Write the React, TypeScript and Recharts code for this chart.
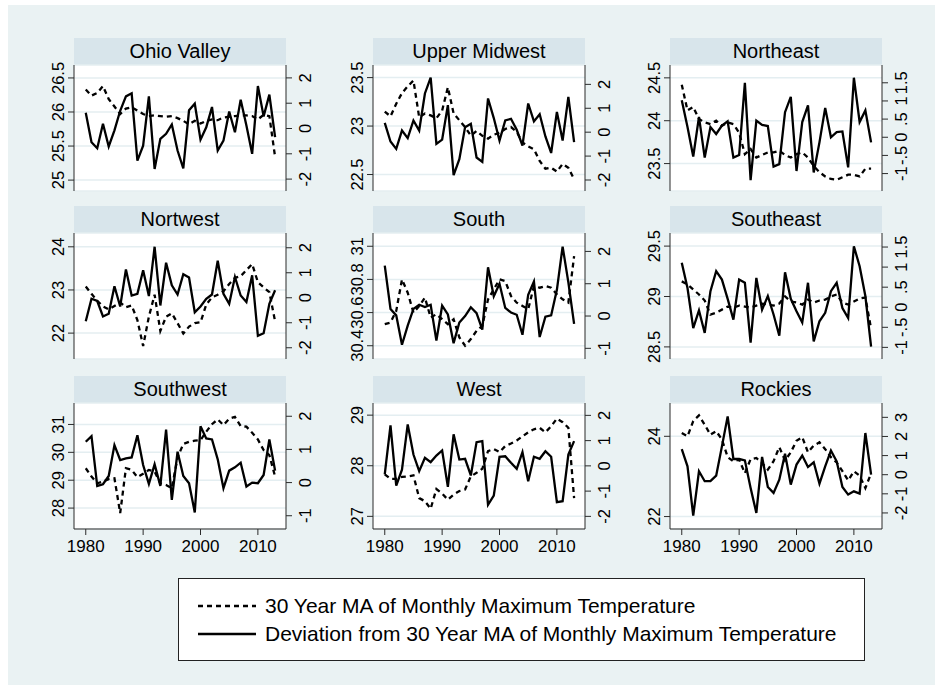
import React from 'react';
import { LineChart, Line, XAxis, YAxis, CartesianGrid } from 'recharts';

const years = [
  1980, 1981, 1982, 1983, 1984, 1985, 1986, 1987, 1988, 1989,
  1990, 1991, 1992, 1993, 1994, 1995, 1996, 1997, 1998, 1999,
  2000, 2001, 2002, 2003, 2004, 2005, 2006, 2007, 2008, 2009,
  2010, 2011, 2012, 2013,
];
const yearTicks = [1980, 1990, 2000, 2010];

// 30 year MA (left axis) and deviation (right axis)
const ohioMA = [26.33, 26.24, 26.28, 26.38, 26.19, 26.08, 25.97, 26.05, 26.07, 26.02, 25.97, 25.94, 25.95, 25.94, 25.93, 25.94, 25.91, 25.87, 25.82, 25.87, 25.83, 25.87, 25.89, 25.88, 25.92, 25.93, 25.94, 25.95, 25.95, 25.94, 25.89, 25.96, 25.94, 25.34];
const ohioDev = [0.62, -0.54, -0.78, 0.19, -0.71, -0.07, 0.7, 1.27, 1.39, -1.27, -0.68, 1.27, -1.6, -0.41, -0.21, 0.16, -0.87, -1.58, 0.72, 0.98, -0.44, 0.05, 0.85, -0.87, -0.48, 0.67, -0.15, 1.14, 0.12, -1.0, 1.68, 0.48, 1.34, -0.34];

const umwMA = [23.15, 23.1, 23.23, 23.34, 23.41, 23.47, 23.09, 23.13, 23.11, 23.08, 23.16, 23.4, 23.13, 23.06, 22.99, 22.9, 22.95, 22.9, 22.87, 22.91, 22.93, 22.97, 22.99, 22.94, 22.83, 22.79, 22.76, 22.64, 22.56, 22.57, 22.53, 22.61, 22.57, 22.45];
const umwDev = [0.39, -0.39, -0.7, 0.07, -0.25, 0.49, 0.07, 1.62, 2.28, -0.49, -0.31, 1.13, -1.8, -1.13, 0.21, 0.35, -1.06, -1.24, 1.41, 0.59, -0.35, 0.49, 0.56, 0.1, -0.56, 1.2, 0.45, 0.75, -0.18, -0.87, 0.85, -0.35, 1.48, -0.42];

const neMA = [24.42, 24.12, 24.16, 24.02, 23.98, 23.96, 24.0, 23.94, 23.98, 23.96, 23.86, 23.61, 23.67, 23.57, 23.6, 23.63, 23.63, 23.65, 23.6, 23.57, 23.61, 23.63, 23.57, 23.47, 23.4, 23.35, 23.32, 23.31, 23.34, 23.37, 23.37, 23.35, 23.44, 23.44];
const neDev = [1.02, 0.28, -0.53, 0.56, -0.56, 0.28, 0.09, 0.32, 0.44, -0.56, -0.49, 1.5, -1.18, 0.46, 0.34, 0.31, -0.81, -0.74, 0.69, 1.11, -0.93, 0.42, 0.88, -0.97, -0.14, 0.81, 0.0, 0.14, 0.16, -0.83, 1.64, 0.42, 0.74, -0.14];

const nwMA = [23.08, 22.91, 22.75, 22.62, 22.55, 22.63, 22.71, 22.6, 22.64, 22.3, 21.7, 22.38, 22.89, 22.05, 22.38, 22.46, 22.23, 21.99, 22.15, 22.23, 22.25, 22.66, 22.83, 22.89, 22.97, 23.14, 23.28, 23.32, 23.46, 23.6, 23.18, 23.06, 22.95, 22.27];
const nwDev = [-0.94, -0.04, -0.13, -0.75, -0.64, 0.46, -0.35, 1.13, 0.09, 0.16, 1.1, 0.07, 2.04, -0.31, 1.4, 0.5, 0.13, 0.94, 0.81, -0.58, -0.35, -0.04, 0.13, 1.48, 0.16, -0.24, 0.83, 0.09, -0.17, 0.9, -1.52, -1.42, -0.24, 0.3];

const southMA = [30.53, 30.54, 30.61, 30.8, 30.72, 30.6, 30.64, 30.69, 30.57, 30.59, 30.56, 30.53, 30.56, 30.45, 30.4, 30.44, 30.49, 30.52, 30.68, 30.74, 30.8, 30.79, 30.7, 30.66, 30.64, 30.62, 30.76, 30.75, 30.76, 30.75, 30.71, 30.68, 30.66, 30.94];
const southDev = [1.56, 0.22, 0.02, -0.89, -0.3, 0.22, 0.35, 0.28, 0.35, -0.76, 0.32, 0.05, -0.84, -0.2, 0.0, 0.27, 0.09, -0.42, 1.51, 0.61, 1.0, 0.25, 0.11, 0.04, -0.58, 0.66, 1.07, -0.65, -0.02, 0.02, 0.81, 2.15, 1.04, -0.24];

const seMA = [29.15, 29.12, 29.07, 29.02, 28.96, 28.82, 28.84, 28.87, 28.9, 28.89, 28.91, 28.9, 28.89, 28.91, 28.93, 28.92, 28.91, 28.93, 29.0, 28.95, 28.94, 28.92, 28.97, 28.94, 28.96, 28.97, 29.0, 29.02, 28.94, 28.92, 28.95, 28.98, 28.99, 28.68];
const seDev = [1.11, 0.48, -0.52, -0.08, -0.64, 0.4, 0.9, 0.69, 0.21, -0.31, 0.69, 0.61, -0.88, 0.73, -0.06, 0.28, -0.18, -0.71, 0.87, 0.21, -0.1, -0.38, 0.61, -0.85, -0.35, -0.14, 0.4, 0.61, -0.02, -0.27, 1.52, 1.02, 0.28, -0.98];

const swMA = [29.43, 29.13, 28.89, 28.95, 29.04, 29.07, 27.82, 29.43, 29.37, 29.11, 29.23, 29.37, 29.31, 28.89, 28.83, 28.71, 29.82, 30.3, 30.38, 30.42, 30.44, 30.74, 31.01, 31.18, 30.98, 31.21, 31.27, 30.94, 30.92, 30.7, 30.46, 30.08, 29.9, 29.13];
const swDev = [1.23, 1.4, -0.1, -0.05, 0.2, 1.13, 0.68, 0.73, 0.76, 1.43, 0.53, -0.04, 0.55, -0.1, 1.6, -0.52, 0.93, 0.2, -0.02, -0.9, 1.7, 1.33, 1.3, 0.7, -0.17, 0.36, 0.46, 0.6, -0.12, 0.0, -0.02, 0.23, 1.3, 0.36];

const westMA = [27.83, 27.74, 27.74, 27.78, 27.79, 27.81, 27.36, 27.3, 27.15, 27.54, 27.45, 27.33, 27.43, 27.5, 27.53, 27.79, 27.86, 27.94, 28.29, 28.33, 28.27, 28.39, 28.44, 28.5, 28.58, 28.66, 28.72, 28.75, 28.66, 28.78, 28.93, 28.86, 28.75, 27.36];
const westDev = [-0.34, 1.6, -0.78, -0.15, 1.64, 0.45, -0.21, 0.32, 0.15, 0.41, 0.61, -0.83, 1.25, 0.25, 0.28, -0.38, 0.94, 0.98, -1.54, -1.18, 0.36, 0.38, 0.12, -0.12, 0.54, -0.61, 0.36, 0.28, 0.58, 0.36, -1.44, -1.4, 0.45, 0.98];

const rockMA = [24.08, 24.0, 24.38, 24.52, 24.29, 24.04, 24.13, 23.92, 23.48, 23.38, 23.42, 23.08, 23.43, 23.46, 23.33, 23.17, 23.38, 23.73, 23.4, 23.6, 23.89, 23.98, 23.6, 23.77, 23.85, 23.68, 23.48, 23.35, 23.13, 22.9, 23.13, 23.02, 22.71, 23.08];
const rockDev = [1.34, 0.44, -2.14, 0.18, -0.34, -0.34, -0.05, 1.48, 3.05, 0.82, 0.82, 0.75, -0.69, -2.0, 0.93, -0.64, -0.95, -0.26, 1.1, -0.52, 0.53, 1.0, 0.4, 0.65, -0.47, 0.44, 1.26, 0.7, -0.64, -1.04, -0.87, -0.99, 2.18, 0.0];

const BG = '#eaf2f3';
const STRIP = '#d8e5eb';
const AXIS = '#2b2b2b';
const FONT = '"Liberation Sans", Arial, sans-serif';

// Stata style labels: .5, -.5
const fmt = (v: number) => {
  const s = String(v);
  if (s.startsWith('0.')) return s.slice(1);
  if (s.startsWith('-0.')) return '-' + s.slice(2);
  return s;
};

const LeftTick = (props: any) => {
  const { x, y, payload } = props;
  return (
    <text transform={`translate(${x - 2},${y}) rotate(-90)`} textAnchor="middle" fontSize={16.5} fontFamily={FONT} fill="#000">
      {fmt(payload.value)}
    </text>
  );
};

const RightTick = (props: any) => {
  const { x, y, payload } = props;
  return (
    <text transform={`translate(${x + 17},${y}) rotate(-90)`} textAnchor="middle" fontSize={16.5} fontFamily={FONT} fill="#000">
      {fmt(payload.value)}
    </text>
  );
};

const panels = [
  { title: 'Ohio Valley', ma: ohioMA, dev: ohioDev, lDom: [24.84, 26.69], lTicks: [25, 25.5, 26, 26.5], rDom: [-2.47, 2.51], rTicks: [-2, -1, 0, 1, 2] },
  { title: 'Upper Midwest', ma: umwMA, dev: umwDev, lDom: [22.33, 23.63], lTicks: [22.5, 23, 23.5], rDom: [-2.46, 2.81], rTicks: [-2, -1, 0, 1, 2] },
  { title: 'Northeast', ma: neMA, dev: neDev, lDom: [23.18, 24.65], lTicks: [23.5, 24, 24.5], rDom: [-1.48, 1.99], rTicks: [-1, -0.5, 0, 0.5, 1, 1.5] },
  { title: 'Nortwest', ma: nwMA, dev: nwDev, lDom: [21.4, 24.32], lTicks: [22, 23, 24], rDom: [-2.45, 2.59], rTicks: [-2, -1, 0, 1, 2] },
  { title: 'South', ma: southMA, dev: southDev, lDom: [30.32, 31.08], lTicks: [30.4, 30.6, 30.8, 31], rDom: [-1.33, 2.57], rTicks: [-1, 0, 1, 2] },
  { title: 'Southeast', ma: seMA, dev: seDev, lDom: [28.38, 29.63], lTicks: [28.5, 29, 29.5], rDom: [-1.29, 1.85], rTicks: [-1, -0.5, 0, 0.5, 1, 1.5] },
  { title: 'Southwest', ma: swMA, dev: swDev, lDom: [27.25, 31.77], lTicks: [28, 29, 30, 31], rDom: [-1.4, 2.4], rTicks: [-1, 0, 1, 2] },
  { title: 'West', ma: westMA, dev: westDev, lDom: [26.75, 29.24], lTicks: [27, 28, 29], rDom: [-2.5, 2.49], rTicks: [-2, -1, 0, 1, 2] },
  { title: 'Rockies', ma: rockMA, dev: rockDev, lDom: [21.69, 24.83], lTicks: [22, 24], rDom: [-2.84, 3.75], rTicks: [-2, -1, 0, 1, 2, 3] },
];

const colLeft = [74, 373, 670];
const rowTop = [65, 233, 403];
const PLOT_W = 212;
const PLOT_H = 126;
const LEFT_W = 50;
const RIGHT_W = 40;
const PAD = 22; // room so rotated end labels are not clipped

const Panel = ({ p, col, row }: any) => {
  const showX = row === 2;
  const data = years.map((yr, i) => ({ year: yr, ma: p.ma[i], dev: p.dev[i] }));
  return (
    <div style={{ position: 'absolute', left: colLeft[col] - LEFT_W, top: rowTop[row] - 27 }}>
      <div
        style={{
          marginLeft: LEFT_W,
          width: PLOT_W,
          height: 27,
          lineHeight: '27px',
          background: STRIP,
          textAlign: 'center',
          fontSize: 20,
          fontFamily: FONT,
          color: '#000',
        }}
      >
        {p.title}
      </div>
      <div style={{ marginTop: -PAD }}>
        <LineChart
          width={LEFT_W + PLOT_W + RIGHT_W}
          height={PLOT_H + PAD + (showX ? 36 : PAD)}
          data={data}
          margin={{ top: PAD, right: 0, bottom: showX ? 0 : PAD, left: 0 }}
        >
          <CartesianGrid yAxisId="l" vertical={false} stroke="#e4eef1" strokeWidth={1.5} fill="#ffffff" />
          <XAxis
            dataKey="year"
            type="number"
            domain={[1977.95, 2014.9]}
            ticks={yearTicks}
            hide={!showX}
            height={36}
            tickSize={6}
            tickMargin={5}
            interval={0}
            allowDataOverflow
            stroke={AXIS}
            tick={{ fill: '#000', fontSize: 17, fontFamily: FONT }}
          />
          <YAxis
            yAxisId="l"
            domain={p.lDom}
            ticks={p.lTicks}
            width={LEFT_W}
            tickSize={6}
            interval={0}
            allowDataOverflow
            stroke={AXIS}
            tick={<LeftTick />}
          />
          <YAxis
            yAxisId="r"
            orientation="right"
            domain={p.rDom}
            ticks={p.rTicks}
            width={RIGHT_W}
            tickSize={6}
            interval={0}
            allowDataOverflow
            stroke={AXIS}
            tick={<RightTick />}
          />
          <Line yAxisId="l" dataKey="ma" stroke="#000" strokeWidth={2.3} strokeDasharray="5 4" dot={false} isAnimationActive={false} />
          <Line yAxisId="r" dataKey="dev" stroke="#000" strokeWidth={2.3} dot={false} isAnimationActive={false} />
        </LineChart>
      </div>
    </div>
  );
};

export default function App() {
  return (
    <div style={{ position: 'absolute', left: 0, top: 0, width: 935, height: 685, background: '#fff', overflow: 'hidden' }}>
      <div style={{ position: 'absolute', left: 8, top: 5, width: 927, height: 680, background: BG }} />
      {panels.map((p, i) => (
        <Panel key={p.title} p={p} col={i % 3} row={Math.floor(i / 3)} />
      ))}
      <div
        style={{
          position: 'absolute',
          left: 178,
          top: 578,
          width: 687,
          height: 83,
          background: '#fff',
          border: '1px solid #222',
          boxSizing: 'border-box',
          fontFamily: FONT,
          fontSize: 21,
          color: '#000',
        }}
      >
        <svg width={90} height={83} style={{ position: 'absolute', left: 0, top: 0 }}>
          <line x1={19} x2={77} y1={27} y2={27} stroke="#000" strokeWidth={2.3} strokeDasharray="5 4" />
          <line x1={19} x2={77} y1={55} y2={55} stroke="#000" strokeWidth={2.3} />
        </svg>
        <div style={{ position: 'absolute', left: 86, top: 14, lineHeight: '26px' }}>30 Year MA of Monthly Maximum Temperature</div>
        <div style={{ position: 'absolute', left: 86, top: 42, lineHeight: '26px' }}>Deviation from 30 Year MA of Monthly Maximum Temperature</div>
      </div>
    </div>
  );
}
